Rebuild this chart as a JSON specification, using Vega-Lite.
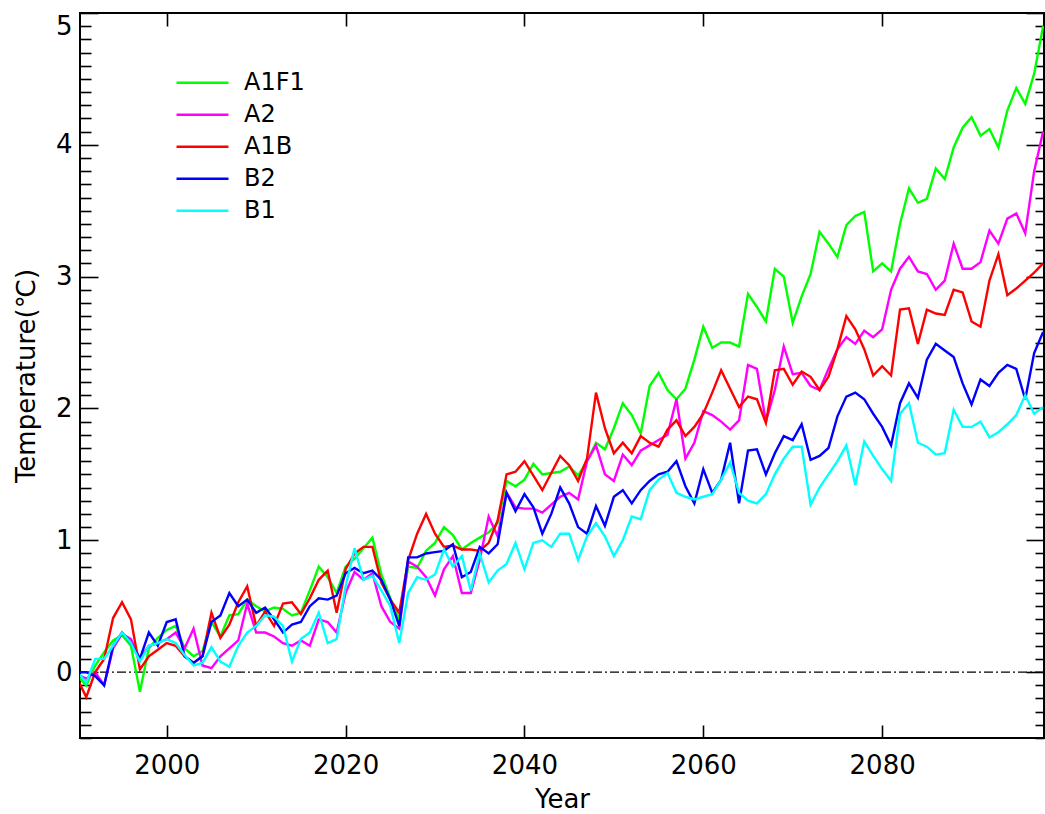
{
  "$schema": "https://vega.github.io/schema/vega-lite/v6.json",
  "width": 964,
  "height": 725,
  "autosize": {"type": "none"},
  "padding": {"left": 80, "top": 13, "right": 1, "bottom": 76},
  "background": "white",
  "datasets": {
    "zero": [{"v": 0}],
    "temps": [
      {"year": 1990, "A1F1": -0.03, "A2": -0.02, "A1B": -0.05, "B2": 0.0, "B1": 0.0},
      {"year": 1991, "A1F1": -0.1, "A2": -0.05, "A1B": -0.19, "B2": 0.0, "B1": -0.08},
      {"year": 1992, "A1F1": 0.05, "A2": 0.0, "A1B": 0.0, "B2": -0.03, "B1": 0.1},
      {"year": 1993, "A1F1": 0.15, "A2": -0.1, "A1B": 0.1, "B2": -0.1, "B1": 0.1},
      {"year": 1994, "A1F1": 0.24, "A2": 0.18, "A1B": 0.41, "B2": 0.2, "B1": 0.2},
      {"year": 1995, "A1F1": 0.28, "A2": 0.29, "A1B": 0.53, "B2": 0.3, "B1": 0.3},
      {"year": 1996, "A1F1": 0.2, "A2": 0.25, "A1B": 0.4, "B2": 0.22, "B1": 0.22},
      {"year": 1997, "A1F1": -0.15, "A2": 0.1, "A1B": 0.02, "B2": 0.1, "B1": 0.08},
      {"year": 1998, "A1F1": 0.18, "A2": 0.2, "A1B": 0.12, "B2": 0.3, "B1": 0.2},
      {"year": 1999, "A1F1": 0.26, "A2": 0.22, "A1B": 0.17, "B2": 0.2, "B1": 0.22},
      {"year": 2000, "A1F1": 0.32, "A2": 0.25, "A1B": 0.22, "B2": 0.38, "B1": 0.25},
      {"year": 2001, "A1F1": 0.35, "A2": 0.3, "A1B": 0.2, "B2": 0.4, "B1": 0.22},
      {"year": 2002, "A1F1": 0.18, "A2": 0.18, "A1B": 0.12, "B2": 0.12, "B1": 0.13},
      {"year": 2003, "A1F1": 0.12, "A2": 0.33, "A1B": 0.07, "B2": 0.07, "B1": 0.05},
      {"year": 2004, "A1F1": 0.16, "A2": 0.05, "A1B": 0.12, "B2": 0.12, "B1": 0.07},
      {"year": 2005, "A1F1": 0.38, "A2": 0.03, "A1B": 0.45, "B2": 0.38, "B1": 0.19},
      {"year": 2006, "A1F1": 0.27, "A2": 0.12, "A1B": 0.26, "B2": 0.43, "B1": 0.08},
      {"year": 2007, "A1F1": 0.43, "A2": 0.18, "A1B": 0.36, "B2": 0.6, "B1": 0.04},
      {"year": 2008, "A1F1": 0.44, "A2": 0.24, "A1B": 0.53, "B2": 0.5, "B1": 0.2},
      {"year": 2009, "A1F1": 0.55, "A2": 0.52, "A1B": 0.65, "B2": 0.55, "B1": 0.3},
      {"year": 2010, "A1F1": 0.5, "A2": 0.3, "A1B": 0.35, "B2": 0.45, "B1": 0.35},
      {"year": 2011, "A1F1": 0.46, "A2": 0.3, "A1B": 0.46, "B2": 0.49, "B1": 0.43},
      {"year": 2012, "A1F1": 0.49, "A2": 0.27, "A1B": 0.35, "B2": 0.4, "B1": 0.42},
      {"year": 2013, "A1F1": 0.48, "A2": 0.22, "A1B": 0.52, "B2": 0.3, "B1": 0.35},
      {"year": 2014, "A1F1": 0.43, "A2": 0.2, "A1B": 0.53, "B2": 0.36, "B1": 0.08},
      {"year": 2015, "A1F1": 0.45, "A2": 0.24, "A1B": 0.44, "B2": 0.38, "B1": 0.25},
      {"year": 2016, "A1F1": 0.62, "A2": 0.2, "A1B": 0.56, "B2": 0.5, "B1": 0.3},
      {"year": 2017, "A1F1": 0.8, "A2": 0.4, "A1B": 0.7, "B2": 0.56, "B1": 0.45},
      {"year": 2018, "A1F1": 0.72, "A2": 0.38, "A1B": 0.77, "B2": 0.55, "B1": 0.22},
      {"year": 2019, "A1F1": 0.6, "A2": 0.3, "A1B": 0.45, "B2": 0.58, "B1": 0.25},
      {"year": 2020, "A1F1": 0.8, "A2": 0.6, "A1B": 0.78, "B2": 0.75, "B1": 0.65},
      {"year": 2021, "A1F1": 0.86, "A2": 0.76, "A1B": 0.9, "B2": 0.79, "B1": 0.94},
      {"year": 2022, "A1F1": 0.94, "A2": 0.7, "A1B": 0.95, "B2": 0.75, "B1": 0.7},
      {"year": 2023, "A1F1": 1.02, "A2": 0.75, "A1B": 0.95, "B2": 0.77, "B1": 0.73},
      {"year": 2024, "A1F1": 0.74, "A2": 0.5, "A1B": 0.68, "B2": 0.7, "B1": 0.62},
      {"year": 2025, "A1F1": 0.56, "A2": 0.38, "A1B": 0.55, "B2": 0.55, "B1": 0.5},
      {"year": 2026, "A1F1": 0.4, "A2": 0.33, "A1B": 0.45, "B2": 0.35, "B1": 0.22},
      {"year": 2027, "A1F1": 0.8, "A2": 0.84, "A1B": 0.85, "B2": 0.87, "B1": 0.6},
      {"year": 2028, "A1F1": 0.79, "A2": 0.8, "A1B": 1.05, "B2": 0.87, "B1": 0.72},
      {"year": 2029, "A1F1": 0.92, "A2": 0.72, "A1B": 1.2, "B2": 0.9, "B1": 0.7},
      {"year": 2030, "A1F1": 0.98, "A2": 0.58, "A1B": 1.05, "B2": 0.91, "B1": 0.74},
      {"year": 2031, "A1F1": 1.1, "A2": 0.78, "A1B": 0.95, "B2": 0.92, "B1": 0.93},
      {"year": 2032, "A1F1": 1.04, "A2": 0.88, "A1B": 0.96, "B2": 0.97, "B1": 0.8},
      {"year": 2033, "A1F1": 0.93, "A2": 0.6, "A1B": 0.93, "B2": 0.72, "B1": 0.88},
      {"year": 2034, "A1F1": 0.98, "A2": 0.6, "A1B": 0.93, "B2": 0.76, "B1": 0.62},
      {"year": 2035, "A1F1": 1.02, "A2": 0.85, "A1B": 0.92, "B2": 0.95, "B1": 0.9},
      {"year": 2036, "A1F1": 1.06, "A2": 1.18, "A1B": 0.98, "B2": 0.9, "B1": 0.68},
      {"year": 2037, "A1F1": 1.13, "A2": 1.03, "A1B": 1.15, "B2": 0.97, "B1": 0.77},
      {"year": 2038, "A1F1": 1.45, "A2": 1.36, "A1B": 1.5, "B2": 1.36, "B1": 0.82},
      {"year": 2039, "A1F1": 1.41, "A2": 1.25, "A1B": 1.52, "B2": 1.22, "B1": 0.98},
      {"year": 2040, "A1F1": 1.46, "A2": 1.24, "A1B": 1.6, "B2": 1.35, "B1": 0.78},
      {"year": 2041, "A1F1": 1.58, "A2": 1.24, "A1B": 1.49, "B2": 1.25, "B1": 0.98},
      {"year": 2042, "A1F1": 1.5, "A2": 1.21, "A1B": 1.38, "B2": 1.05, "B1": 1.0},
      {"year": 2043, "A1F1": 1.51, "A2": 1.27, "A1B": 1.51, "B2": 1.2, "B1": 0.95},
      {"year": 2044, "A1F1": 1.52, "A2": 1.33, "A1B": 1.64, "B2": 1.4, "B1": 1.05},
      {"year": 2045, "A1F1": 1.56, "A2": 1.36, "A1B": 1.57, "B2": 1.28, "B1": 1.05},
      {"year": 2046, "A1F1": 1.49, "A2": 1.31, "A1B": 1.45, "B2": 1.1, "B1": 0.85},
      {"year": 2047, "A1F1": 1.6, "A2": 1.6, "A1B": 1.62, "B2": 1.05, "B1": 1.03},
      {"year": 2048, "A1F1": 1.74, "A2": 1.72, "A1B": 2.12, "B2": 1.26, "B1": 1.13},
      {"year": 2049, "A1F1": 1.69, "A2": 1.5, "A1B": 1.85, "B2": 1.11, "B1": 1.03},
      {"year": 2050, "A1F1": 1.85, "A2": 1.45, "A1B": 1.66, "B2": 1.33, "B1": 0.88},
      {"year": 2051, "A1F1": 2.04, "A2": 1.65, "A1B": 1.74, "B2": 1.38, "B1": 1.0},
      {"year": 2052, "A1F1": 1.95, "A2": 1.57, "A1B": 1.66, "B2": 1.28, "B1": 1.18},
      {"year": 2053, "A1F1": 1.81, "A2": 1.68, "A1B": 1.79, "B2": 1.38, "B1": 1.16},
      {"year": 2054, "A1F1": 2.17, "A2": 1.72, "A1B": 1.74, "B2": 1.45, "B1": 1.38},
      {"year": 2055, "A1F1": 2.27, "A2": 1.76, "A1B": 1.71, "B2": 1.5, "B1": 1.46},
      {"year": 2056, "A1F1": 2.14, "A2": 1.8, "A1B": 1.84, "B2": 1.52, "B1": 1.51},
      {"year": 2057, "A1F1": 2.07, "A2": 2.07, "A1B": 1.91, "B2": 1.6, "B1": 1.36},
      {"year": 2058, "A1F1": 2.15, "A2": 1.62, "A1B": 1.79, "B2": 1.41, "B1": 1.33},
      {"year": 2059, "A1F1": 2.37, "A2": 1.74, "A1B": 1.86, "B2": 1.28, "B1": 1.31},
      {"year": 2060, "A1F1": 2.62, "A2": 1.98, "A1B": 1.96, "B2": 1.54, "B1": 1.33},
      {"year": 2061, "A1F1": 2.46, "A2": 1.95, "A1B": 2.12, "B2": 1.36, "B1": 1.35},
      {"year": 2062, "A1F1": 2.5, "A2": 1.9, "A1B": 2.29, "B2": 1.46, "B1": 1.46},
      {"year": 2063, "A1F1": 2.5, "A2": 1.84, "A1B": 2.15, "B2": 1.74, "B1": 1.59},
      {"year": 2064, "A1F1": 2.47, "A2": 1.91, "A1B": 2.01, "B2": 1.28, "B1": 1.36},
      {"year": 2065, "A1F1": 2.87, "A2": 2.33, "A1B": 2.09, "B2": 1.68, "B1": 1.3},
      {"year": 2066, "A1F1": 2.77, "A2": 2.3, "A1B": 2.07, "B2": 1.69, "B1": 1.28},
      {"year": 2067, "A1F1": 2.66, "A2": 1.9, "A1B": 1.89, "B2": 1.5, "B1": 1.35},
      {"year": 2068, "A1F1": 3.06, "A2": 2.14, "A1B": 2.29, "B2": 1.66, "B1": 1.5},
      {"year": 2069, "A1F1": 3.0, "A2": 2.47, "A1B": 2.3, "B2": 1.79, "B1": 1.62},
      {"year": 2070, "A1F1": 2.65, "A2": 2.26, "A1B": 2.18, "B2": 1.76, "B1": 1.71},
      {"year": 2071, "A1F1": 2.85, "A2": 2.27, "A1B": 2.28, "B2": 1.88, "B1": 1.71},
      {"year": 2072, "A1F1": 3.02, "A2": 2.17, "A1B": 2.24, "B2": 1.61, "B1": 1.27},
      {"year": 2073, "A1F1": 3.34, "A2": 2.14, "A1B": 2.14, "B2": 1.64, "B1": 1.4},
      {"year": 2074, "A1F1": 3.25, "A2": 2.3, "A1B": 2.24, "B2": 1.7, "B1": 1.5},
      {"year": 2075, "A1F1": 3.15, "A2": 2.45, "A1B": 2.45, "B2": 1.94, "B1": 1.6},
      {"year": 2076, "A1F1": 3.39, "A2": 2.54, "A1B": 2.7, "B2": 2.09, "B1": 1.72},
      {"year": 2077, "A1F1": 3.46, "A2": 2.49, "A1B": 2.6, "B2": 2.12, "B1": 1.42},
      {"year": 2078, "A1F1": 3.49, "A2": 2.59, "A1B": 2.45, "B2": 2.07, "B1": 1.75},
      {"year": 2079, "A1F1": 3.04, "A2": 2.54, "A1B": 2.25, "B2": 1.96, "B1": 1.64},
      {"year": 2080, "A1F1": 3.1, "A2": 2.6, "A1B": 2.32, "B2": 1.86, "B1": 1.54},
      {"year": 2081, "A1F1": 3.04, "A2": 2.9, "A1B": 2.25, "B2": 1.72, "B1": 1.45},
      {"year": 2082, "A1F1": 3.4, "A2": 3.06, "A1B": 2.75, "B2": 2.04, "B1": 1.96},
      {"year": 2083, "A1F1": 3.67, "A2": 3.15, "A1B": 2.76, "B2": 2.19, "B1": 2.04},
      {"year": 2084, "A1F1": 3.56, "A2": 3.04, "A1B": 2.49, "B2": 2.08, "B1": 1.74},
      {"year": 2085, "A1F1": 3.59, "A2": 3.02, "A1B": 2.75, "B2": 2.37, "B1": 1.71},
      {"year": 2086, "A1F1": 3.82, "A2": 2.9, "A1B": 2.72, "B2": 2.49, "B1": 1.65},
      {"year": 2087, "A1F1": 3.74, "A2": 2.97, "A1B": 2.71, "B2": 2.44, "B1": 1.66},
      {"year": 2088, "A1F1": 3.98, "A2": 3.25, "A1B": 2.9, "B2": 2.39, "B1": 1.99},
      {"year": 2089, "A1F1": 4.13, "A2": 3.06, "A1B": 2.88, "B2": 2.19, "B1": 1.86},
      {"year": 2090, "A1F1": 4.21, "A2": 3.06, "A1B": 2.66, "B2": 2.03, "B1": 1.86},
      {"year": 2091, "A1F1": 4.07, "A2": 3.11, "A1B": 2.62, "B2": 2.22, "B1": 1.9},
      {"year": 2092, "A1F1": 4.12, "A2": 3.35, "A1B": 2.97, "B2": 2.17, "B1": 1.78},
      {"year": 2093, "A1F1": 3.98, "A2": 3.25, "A1B": 3.17, "B2": 2.27, "B1": 1.82},
      {"year": 2094, "A1F1": 4.26, "A2": 3.44, "A1B": 2.86, "B2": 2.33, "B1": 1.88},
      {"year": 2095, "A1F1": 4.43, "A2": 3.48, "A1B": 2.91, "B2": 2.3, "B1": 1.95},
      {"year": 2096, "A1F1": 4.31, "A2": 3.33, "A1B": 2.97, "B2": 2.07, "B1": 2.1},
      {"year": 2097, "A1F1": 4.54, "A2": 3.8, "A1B": 3.03, "B2": 2.42, "B1": 1.96},
      {"year": 2098, "A1F1": 4.9, "A2": 4.1, "A1B": 3.1, "B2": 2.58, "B1": 2.01}
    ]
  },
  "config": {
    "view": {"stroke": "#000000", "strokeWidth": 2},
    "font": "DejaVu Sans",
    "axis": {
      "domain": false,
      "grid": false,
      "tickColor": "#000000",
      "tickWidth": 1.6,
      "labelColor": "#000000",
      "titleColor": "#000000",
      "labelFont": "DejaVu Sans",
      "titleFont": "DejaVu Sans",
      "labelFontSize": 26,
      "titleFontSize": 26,
      "titleFontWeight": "normal"
    }
  },
  "layer": [
    {
      "data": {"name": "zero"},
      "mark": {"type": "rule", "color": "#000000", "strokeWidth": 1.2, "strokeDash": [9, 3, 2, 3]},
      "encoding": {
        "y": {
          "field": "v",
          "type": "quantitative",
          "scale": {"domain": [-0.5, 5], "nice": false, "zero": false},
          "axis": {
            "orient": "left",
            "values": [-0.5,-0.4,-0.3,-0.2,-0.1,0.1,0.2,0.3,0.4,0.5,0.6,0.7,0.8,0.9,1.1,1.2,1.3,1.4,1.5,1.6,1.7,1.8,1.9,2.1,2.2,2.3,2.4,2.5,2.6,2.7,2.8,2.9,3.1,3.2,3.3,3.4,3.5,3.6,3.7,3.8,3.9,4.1,4.2,4.3,4.4,4.5,4.6,4.7,4.8,4.9],
            "tickSize": -11,
            "labels": false,
            "title": null
          }
        }
      }
    },
    {
      "data": {"name": "temps"},
      "transform": [{"fold": ["A1F1", "A2", "A1B", "B2", "B1"], "as": ["scenario", "temp"]}],
      "mark": {"type": "line", "strokeWidth": 2.4, "clip": true},
      "encoding": {
        "x": {
          "field": "year",
          "type": "quantitative",
          "scale": {"domain": [1990.3, 2098.1], "nice": false, "zero": false},
          "axis": {
            "orient": "bottom",
            "values": [2000, 2020, 2040, 2060, 2080],
            "format": "d",
            "tickSize": -13,
            "labelPadding": 27,
            "title": "Year",
            "titlePadding": 8
          }
        },
        "y": {
          "field": "temp",
          "type": "quantitative",
          "scale": {"domain": [-0.5, 5], "nice": false, "zero": false},
          "axis": {
            "orient": "left",
            "values": [0, 1, 2, 3, 4, 5],
            "tickSize": -18,
            "labelPadding": 26,
            "labelFlush": true,
            "title": "Temperature(℃)",
            "titlePadding": 16
          }
        },
        "color": {
          "field": "scenario",
          "type": "nominal",
          "scale": {
            "domain": ["A1F1", "A2", "A1B", "B2", "B1"],
            "range": ["#00ff00", "#ff00ff", "#ff0000", "#0000ff", "#00ffff"]
          },
          "legend": {
            "title": null,
            "orient": "none",
            "legendX": 95,
            "legendY": 54,
            "symbolType": "stroke",
            "symbolSize": 2700,
            "symbolStrokeWidth": 2.5,
            "labelFontSize": 24,
            "labelFont": "DejaVu Sans",
            "labelColor": "#000000",
            "labelOffset": 14,
            "clipHeight": 31.7,
            "rowPadding": 0,
            "padding": 0
          }
        }
      }
    },
    {
      "data": {"name": "temps"},
      "mark": {"type": "line", "opacity": 0, "clip": true},
      "encoding": {
        "x": {
          "field": "year",
          "type": "quantitative",
          "scale": {"domain": [1990.3, 2098.1], "nice": false, "zero": false},
          "axis": {"orient": "top", "values": [2000, 2020, 2040, 2060, 2080], "tickSize": -13, "labels": false, "title": null}
        },
        "y": {
          "field": "A1F1",
          "type": "quantitative",
          "scale": {"domain": [-0.5, 5], "nice": false, "zero": false},
          "axis": {"orient": "right", "values": [0, 1, 2, 3, 4, 5], "tickSize": -18, "labels": false, "title": null}
        }
      }
    },
    {
      "data": {"name": "temps"},
      "mark": {"type": "line", "opacity": 0, "clip": true},
      "encoding": {
        "x": {
          "field": "year",
          "type": "quantitative",
          "scale": {"domain": [1990.3, 2098.1], "nice": false, "zero": false},
          "axis": null
        },
        "y": {
          "field": "B1",
          "type": "quantitative",
          "scale": {"domain": [-0.5, 5], "nice": false, "zero": false},
          "axis": {
            "orient": "right",
            "values": [-0.5,-0.4,-0.3,-0.2,-0.1,0.1,0.2,0.3,0.4,0.5,0.6,0.7,0.8,0.9,1.1,1.2,1.3,1.4,1.5,1.6,1.7,1.8,1.9,2.1,2.2,2.3,2.4,2.5,2.6,2.7,2.8,2.9,3.1,3.2,3.3,3.4,3.5,3.6,3.7,3.8,3.9,4.1,4.2,4.3,4.4,4.5,4.6,4.7,4.8,4.9],
            "tickSize": -9,
            "labels": false,
            "title": null
          }
        }
      }
    }
  ],
  "resolve": {"axis": {"x": "independent", "y": "independent"}}
}
